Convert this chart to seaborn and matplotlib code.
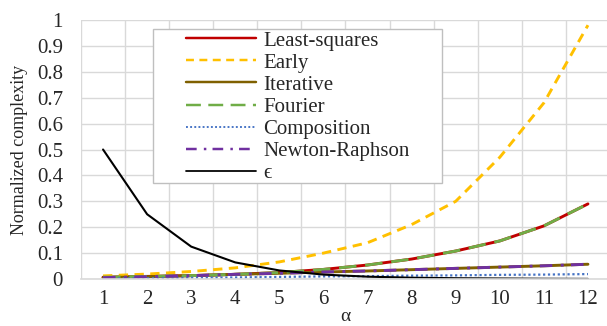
import numpy as np
import pandas as pd
import matplotlib
matplotlib.use("Agg")
import matplotlib.pyplot as plt
import matplotlib.patches as mpatches
import seaborn as sns

# values
alpha = [1, 2, 3, 4, 5, 6, 7, 8, 9, 10, 11, 12]
least_squares = [0.007, 0.010, 0.013, 0.018, 0.025, 0.037, 0.054, 0.077, 0.108, 0.147, 0.205, 0.290]
early = [0.012, 0.019, 0.029, 0.043, 0.066, 0.100, 0.140, 0.210, 0.300, 0.470, 0.680, 0.980]
iterative = [0.005, 0.009, 0.013, 0.018, 0.022, 0.027, 0.031, 0.036, 0.041, 0.046, 0.051, 0.057]
fourier = [0.007, 0.010, 0.013, 0.018, 0.025, 0.037, 0.054, 0.077, 0.108, 0.147, 0.205, 0.290]
composition = [0.002, 0.003, 0.005, 0.006, 0.008, 0.010, 0.011, 0.013, 0.014, 0.016, 0.017, 0.019]
newton = [0.005, 0.009, 0.013, 0.018, 0.022, 0.027, 0.031, 0.036, 0.041, 0.046, 0.051, 0.057]
eps = [0.5, 0.25, 0.125, 0.064, 0.033, 0.017, 0.009, 0.005, 0.003, 0.002, 0.001, 0.0005]

y_ticks = [0, 0.1, 0.2, 0.3, 0.4, 0.5, 0.6, 0.7, 0.8, 0.9, 1]
y_tick_labels = ["0", "0.1", "0.2", "0.3", "0.4", "0.5", "0.6", "0.7", "0.8", "0.9", "1"]

sns.set_style("white")
plt.rcParams["font.family"] = ["Liberation Serif", "DejaVu Serif"]

W, H = 607, 326
fig = plt.figure(figsize=(W / 100, H / 100), dpi=100)
ax = fig.add_axes([81 / W, 1 - 279 / H, 529 / W, 259 / H])

series = [
    ("Least-squares", least_squares, "#C00000", "-", 2.1),
    ("Early", early, "#FFC000", (0, (3.2, 2.2)), 2.1),
    ("Iterative", iterative, "#7F6000", "-", 2.1),
    ("Fourier", fourier, "#70AD47", (0, (6, 3)), 2.1),
    ("Composition", composition, "#4472C4", (0, (1, 1.2)), 1.6),
    ("Newton-Raphson", newton, "#7030A0", (0, (4.3, 2.9, 1, 2.5)), 2.1),
    ("\u03f5", eps, "black", "-", 1.5),
]

for name, vals, color, ls, lw in series:
    df = pd.DataFrame({"alpha": alpha, "value": vals})
    sns.lineplot(data=df, x="alpha", y="value", ax=ax, color=color,
                 linestyle=ls, linewidth=lw, label=name)

ax.set_xlim(0.5, 12.5)
ax.set_ylim(0, 1)
ax.set_xticks(alpha)
ax.set_xticklabels([str(a) for a in alpha])
ax.set_xticks(np.arange(0.5, 12.5, 1), minor=True)
ax.set_yticks(y_ticks)
ax.set_yticklabels(y_tick_labels)
ax.grid(False)
ax.grid(which="minor", axis="x", color="#D9D9D9", linewidth=1)
ax.grid(which="major", axis="y", color="#D9D9D9", linewidth=1)
ax.tick_params(which="both", length=0, labelsize=15)
ax.tick_params(axis="x", pad=8)
ax.tick_params(axis="y", pad=13)
for s in ["top", "right", "left"]:
    ax.spines[s].set_visible(False)
ax.spines["bottom"].set_color("#D9D9D9")
ax.spines["bottom"].set_linewidth(1.2)

ax.set_xlabel("\u03b1", fontsize=14)
ax.xaxis.set_label_coords(0.5, -0.112)
ax.set_ylabel("Normalized complexity", fontsize=13, labelpad=6)

# legend box like the spreadsheet one (wider than its entries)
box = mpatches.Rectangle((153 / W, 1 - 183 / H), 289 / W, 154 / H,
                         transform=fig.transFigure, facecolor="white",
                         edgecolor="#BFBFBF", linewidth=1, zorder=5,
                         clip_on=False)
ax.add_patch(box)

leg = ax.legend(loc="upper left", bbox_to_anchor=(186 / W, 1 - 31 / H),
                bbox_transform=fig.transFigure, fontsize=15, frameon=False,
                handlelength=3.37, handletextpad=0.34, labelspacing=0.12,
                borderpad=0, borderaxespad=0)
leg.set_zorder(6)
for line in leg.get_lines():
    line.set_linewidth(line.get_linewidth() * 0.85)

fig.savefig("out.png", dpi=100)
